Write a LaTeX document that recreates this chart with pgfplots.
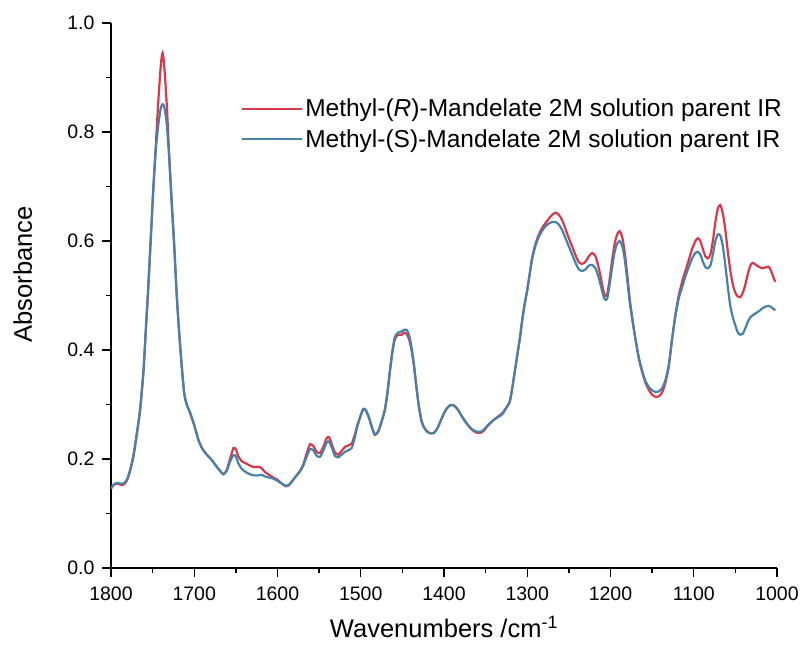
\documentclass[border=0pt]{standalone}
\usepackage{pgfplots}
\usepackage{pgfplotstable}
\pgfplotsset{compat=1.18}
\usepackage{fontspec}
\setmainfont{Liberation Sans}
\definecolor{rcol}{RGB}{216,56,74}
\definecolor{bcol}{RGB}{70,130,168}

\pgfplotstableread{
x r b
1800 0.146 0.146
1797 0.152 0.153
1793 0.155 0.156
1789 0.153 0.155
1785 0.153 0.155
1781 0.160 0.162
1777 0.178 0.180
1773 0.205 0.207
1769 0.245 0.247
1765 0.290 0.292
1761 0.360 0.362
1758 0.440 0.442
1755 0.520 0.522
1752 0.610 0.612
1749 0.700 0.700
1746 0.780 0.770
1743 0.860 0.815
1740 0.925 0.845
1738 0.945 0.851
1736 0.920 0.846
1733 0.850 0.815
1730 0.755 0.750
1727 0.670 0.668
1724 0.590 0.590
1721 0.500 0.500
1718 0.430 0.430
1715 0.370 0.370
1712 0.320 0.320
1709 0.300 0.300
1705 0.285 0.285
1700 0.262 0.262
1695 0.235 0.235
1690 0.218 0.218
1685 0.208 0.208
1680 0.200 0.200
1675 0.190 0.190
1670 0.180 0.180
1665 0.172 0.172
1661 0.180 0.178
1657 0.200 0.195
1653 0.220 0.207
1650 0.218 0.205
1647 0.205 0.192
1643 0.196 0.182
1638 0.192 0.176
1633 0.188 0.172
1628 0.185 0.170
1623 0.186 0.170
1619 0.183 0.171
1615 0.176 0.168
1610 0.171 0.166
1605 0.166 0.164
1600 0.162 0.160
1595 0.155 0.155
1590 0.150 0.151
1586 0.152 0.153
1582 0.160 0.160
1578 0.168 0.168
1573 0.178 0.177
1569 0.190 0.188
1565 0.210 0.204
1561 0.227 0.218
1557 0.224 0.216
1553 0.213 0.206
1549 0.211 0.204
1545 0.222 0.215
1541 0.238 0.230
1538 0.240 0.232
1535 0.228 0.222
1531 0.212 0.206
1527 0.208 0.203
1523 0.215 0.208
1519 0.222 0.213
1515 0.225 0.216
1511 0.228 0.220
1508 0.240 0.234
1504 0.262 0.260
1500 0.280 0.280
1497 0.291 0.292
1494 0.289 0.290
1490 0.275 0.276
1486 0.255 0.256
1483 0.244 0.245
1479 0.250 0.251
1475 0.268 0.269
1471 0.290 0.291
1468 0.320 0.321
1465 0.360 0.362
1462 0.395 0.398
1459 0.420 0.424
1455 0.428 0.432
1451 0.428 0.434
1448 0.432 0.437
1445 0.430 0.437
1442 0.420 0.428
1439 0.400 0.405
1436 0.370 0.372
1433 0.330 0.331
1430 0.295 0.295
1427 0.270 0.270
1424 0.258 0.258
1420 0.250 0.250
1416 0.247 0.247
1412 0.248 0.248
1408 0.256 0.256
1404 0.270 0.270
1400 0.284 0.284
1396 0.294 0.294
1392 0.299 0.299
1388 0.298 0.298
1384 0.292 0.292
1380 0.282 0.282
1375 0.270 0.270
1370 0.260 0.260
1365 0.252 0.253
1360 0.248 0.250
1356 0.248 0.250
1352 0.252 0.254
1348 0.260 0.261
1344 0.266 0.267
1340 0.272 0.272
1335 0.278 0.277
1330 0.284 0.282
1325 0.295 0.294
1321 0.305 0.305
1318 0.330 0.330
1315 0.360 0.360
1312 0.390 0.390
1309 0.420 0.420
1306 0.455 0.455
1303 0.485 0.485
1300 0.510 0.510
1297 0.540 0.540
1294 0.570 0.568
1290 0.595 0.592
1286 0.612 0.608
1282 0.624 0.619
1278 0.633 0.627
1274 0.641 0.632
1270 0.648 0.635
1266 0.652 0.635
1262 0.648 0.630
1258 0.638 0.620
1254 0.622 0.605
1250 0.605 0.590
1246 0.590 0.575
1242 0.574 0.560
1238 0.561 0.548
1234 0.558 0.545
1230 0.562 0.548
1226 0.572 0.555
1222 0.578 0.556
1218 0.572 0.550
1214 0.550 0.532
1210 0.520 0.508
1207 0.500 0.493
1204 0.502 0.494
1201 0.530 0.520
1198 0.565 0.552
1195 0.595 0.580
1192 0.612 0.595
1189 0.618 0.600
1186 0.608 0.592
1183 0.580 0.568
1180 0.540 0.530
1177 0.495 0.490
1174 0.460 0.458
1170 0.420 0.420
1166 0.385 0.386
1162 0.360 0.362
1158 0.340 0.343
1154 0.327 0.332
1150 0.318 0.326
1146 0.314 0.323
1142 0.315 0.324
1138 0.322 0.330
1134 0.340 0.345
1130 0.370 0.372
1126 0.420 0.420
1122 0.465 0.462
1118 0.500 0.495
1114 0.525 0.515
1110 0.545 0.535
1106 0.565 0.552
1102 0.585 0.568
1098 0.600 0.578
1095 0.605 0.580
1092 0.600 0.575
1089 0.585 0.562
1086 0.572 0.552
1083 0.568 0.550
1080 0.575 0.555
1077 0.600 0.575
1074 0.635 0.600
1071 0.660 0.612
1068 0.666 0.610
1065 0.650 0.590
1062 0.620 0.555
1059 0.580 0.515
1056 0.545 0.480
1053 0.520 0.460
1050 0.505 0.445
1047 0.498 0.432
1044 0.497 0.428
1041 0.505 0.430
1038 0.520 0.440
1035 0.540 0.452
1032 0.555 0.460
1029 0.560 0.464
1025 0.556 0.468
1021 0.552 0.472
1017 0.550 0.477
1013 0.552 0.480
1010 0.553 0.481
1007 0.545 0.479
1004 0.532 0.475
1002 0.525 0.473
}\spectra

\begin{document}
\begin{tikzpicture}
\useasboundingbox (-111pt,-80pt) rectangle (689pt,568pt);
\begin{axis}[
  scale only axis,
  width=666pt, height=545pt,
  x dir=reverse,
  xmin=1000, xmax=1800,
  ymin=0, ymax=1.0,
  axis x line=bottom, axis y line=left,
  axis line style={-, line width=1.5pt},
  xtick={1000,1100,...,1800},
  ytick={0,0.2,...,1.0},
  minor x tick num=1, minor y tick num=1,
  tick align=outside,
  major tick length=9pt, minor tick length=5pt,
  every tick/.style={black, line width=1.3pt},
  /pgf/number format/assume math mode=true,
  xticklabel={\pgfmathprintnumber[1000 sep={}]{\tick}},
  yticklabel={\pgfmathprintnumber[fixed, fixed zerofill, precision=1]{\tick}},
  ticklabel style={font=\fontsize{19.5}{22}\selectfont},
  x tick label style={yshift=-6pt},
  y tick label style={xshift=-4pt},
  xlabel={Wavenumbers /cm\textsuperscript{-1}},
  ylabel={Absorbance},
  label style={font=\fontsize{25.5}{29}\selectfont},
  xlabel style={at={(axis description cs:0.5,-0.1284)}, anchor=base},
  ylabel style={at={(axis description cs:-0.1186,0.539)}, anchor=base},
  legend style={at={(axis description cs:0.195,0.815)}, anchor=west,
    draw=none, fill=none, inner sep=0pt, row sep=7pt,
    font=\fontsize{24.5}{28}\selectfont,
    nodes={inner sep=2pt}},
  legend cell align=left,
  legend image code/.code={\draw[#1] (0pt,0pt) -- (60pt,0pt);},
  clip=true,
]
\addplot[rcol, line width=2.2pt, smooth, tension=0.4] table[x=x, y=r] {\spectra};
\addlegendentry{Methyl-(\textit{R})-Mandelate 2M solution parent IR}
\addplot[bcol, line width=2.2pt, smooth, tension=0.4] table[x=x, y=b] {\spectra};
\addlegendentry{Methyl-(S)-Mandelate 2M solution parent IR}
\end{axis}
\end{tikzpicture}
\end{document}
